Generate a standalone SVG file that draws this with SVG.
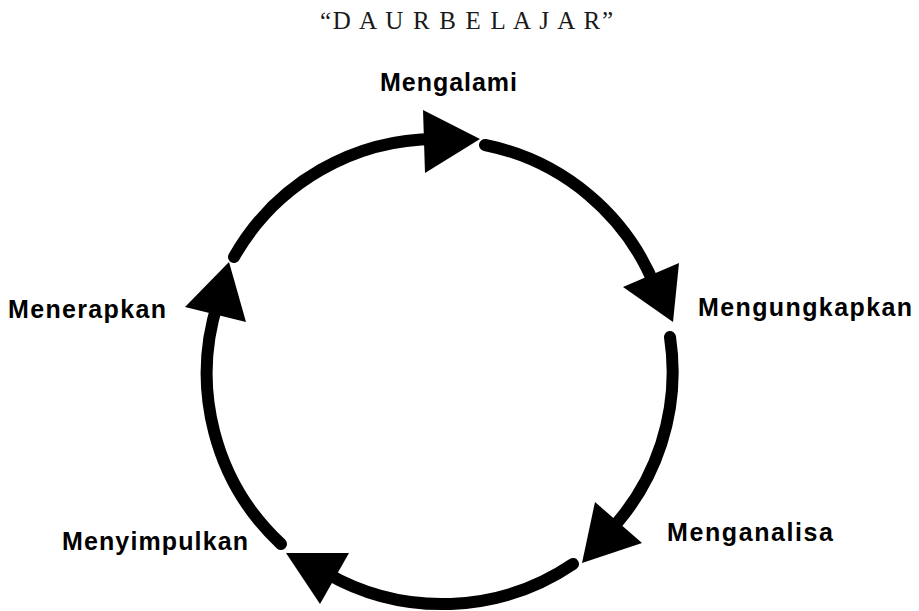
<svg xmlns="http://www.w3.org/2000/svg" width="919" height="611" viewBox="0 0 919 611">
<style>
.lbl{font-family:"Liberation Sans",Arial,sans-serif;font-weight:bold;font-size:25px;fill:#000}
.title{font-family:"Liberation Serif","Times New Roman",serif;font-size:25px;fill:#1a1a1a}
.arc{fill:none;stroke:#000;stroke-width:12;stroke-linecap:round}
.head{fill:#000}
</style>
<rect width="919" height="611" fill="#fff"/>
<text class="title" x="320" y="29" textLength="293" lengthAdjust="spacing">“D A U R B E L A J A R”</text>
<g id="connectors">
<path class="arc" d="M 234 257 A 233 233 0 0 1 440 139"/>
<polygon class="head" points="423,110 425,173 480,139"/>
<path class="arc" d="M 485 145 A 233 233 0 0 1 656 289"/>
<polygon class="head" points="623,287 679,263 673,322"/>
<path class="arc" d="M 670 337 A 233 233 0 0 1 606 535"/>
<polygon class="head" points="595,502 642,543 582,563"/>
<path class="arc" d="M 573 564 A 233 233 0 0 1 326 573"/>
<polygon class="head" points="286,553 349,553 320,604"/>
<path class="arc" d="M 281 544 A 233 233 0 0 1 218 302"/>
<polygon class="head" points="185,307 246,322 229,262"/>
</g>
<g id="node-mengalami"><text class="lbl" x="380" y="91" textLength="137" lengthAdjust="spacing">Mengalami</text></g>
<g id="node-mengungkapkan"><text class="lbl" x="698" y="316" textLength="214" lengthAdjust="spacing">Mengungkapkan</text></g>
<g id="node-menganalisa"><text class="lbl" x="667" y="541" textLength="166" lengthAdjust="spacing">Menganalisa</text></g>
<g id="node-menyimpulkan"><text class="lbl" x="62" y="550" textLength="186" lengthAdjust="spacing">Menyimpulkan</text></g>
<g id="node-menerapkan"><text class="lbl" x="8" y="318" textLength="158" lengthAdjust="spacing">Menerapkan</text></g>
</svg>
